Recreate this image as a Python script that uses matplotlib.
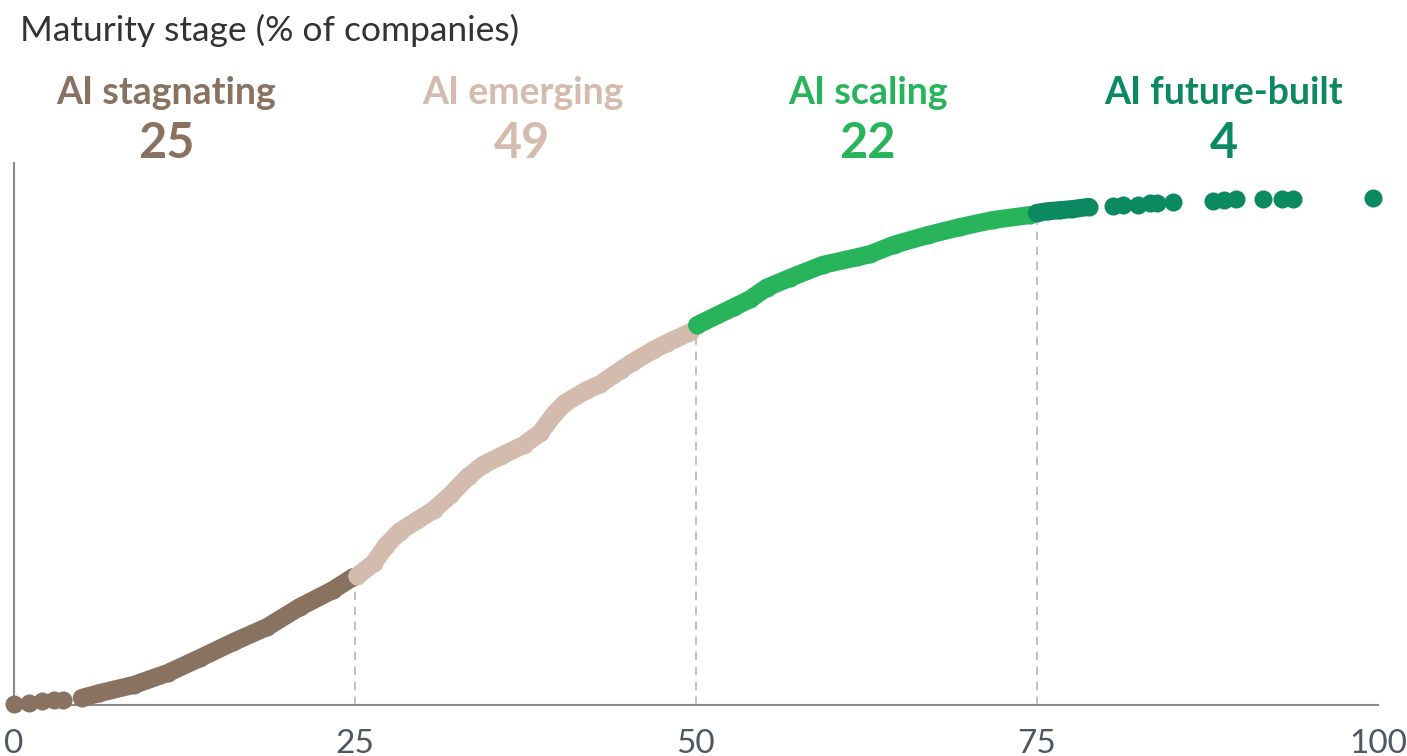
import matplotlib
matplotlib.use("Agg")
import matplotlib.pyplot as plt

# ---- data (x = % of companies, y = relative maturity score) ----
stages = ["AI stagnating", "AI emerging", "AI scaling", "AI future-built"]
shares = [25, 49, 22, 4]
label_x = [11.2, 37.3, 62.6, 88.7]
stage_colors = ["#8A7261", "#D3BBAD", "#28B45A", "#0B8A62"]

lead_x = [0.0, 1.1, 2.1, 3.0, 3.6]
lead_y = [0.2, 0.4, 0.7, 0.9, 0.9]

stag_x = [5.0, 6.3, 8.8, 11.3, 13.7, 16.1, 18.6, 21.0, 23.4, 24.9]
stag_y = [1.3, 2.2, 3.7, 5.9, 8.7, 11.6, 14.4, 18.1, 21.2, 23.6]

emerg_x = [25.2, 26.4, 27.3, 28.3, 29.6, 30.8, 32.0, 33.3, 34.4, 35.7, 37.4,
           38.6, 39.6, 40.4, 42.0, 43.0, 44.5, 45.4, 46.9, 47.9, 49.6]
emerg_y = [23.8, 26.2, 29.4, 32.0, 34.1, 36.0, 38.7, 42.1, 44.3, 45.9, 48.0,
           50.2, 53.6, 55.7, 58.1, 59.2, 61.8, 63.3, 65.5, 66.8, 68.8]

scal_x = [50.1, 52.8, 54.0, 55.2, 56.9, 59.3, 61.8, 62.8, 64.5, 67.0, 69.4, 71.8, 74.5]
scal_y = [70.1, 73.4, 74.9, 77.0, 78.8, 81.2, 82.6, 83.2, 84.9, 86.7, 88.2, 89.5, 90.4]

fut_x = [75.0, 75.8, 76.7, 77.6, 78.8]
fut_y = [90.8, 91.1, 91.3, 91.5, 91.9]
fut_dots_x = [80.6, 81.3, 82.4, 83.3, 83.8, 85.0, 87.9, 88.7, 89.6, 91.6, 93.0, 93.8, 99.6]
fut_dots_y = [92.1, 92.3, 92.3, 92.6, 92.6, 92.8, 93.0, 93.2, 93.4, 93.4, 93.4, 93.4, 93.5]

boundaries = [25, 50, 75]
xticks = [0, 25, 50, 75, 100]

plt.rcParams['font.family'] = ['Lato', 'DejaVu Sans']

W, H = 1407, 756
fig = plt.figure(figsize=(W / 100, H / 100), dpi=100)
ax = fig.add_axes([13.5 / W, (H - 705) / H, (1378 - 13.5) / W, (705 - 163) / H])
ax.set_xlim(0, 100)
ax.set_ylim(0, 100)

# dashed lines at stage boundaries, up to the curve
tops = [emerg_y[0], scal_y[0], fut_y[0]]
for bx, ty in zip(boundaries, tops):
    ax.plot([bx, bx], [0, ty], color="#b5b5b5", lw=1.2, ls=(0, (5, 4)), zorder=1)

dot = 13
segs = [(stag_x, stag_y, stage_colors[0]), (emerg_x, emerg_y, stage_colors[1]),
        (scal_x, scal_y, stage_colors[2]), (fut_x, fut_y, stage_colors[3])]
for xs, ys, c in segs:
    ax.plot(xs, ys, color=c, lw=dot, solid_capstyle="round", solid_joinstyle="round",
            marker="o", ms=dot, mew=0, zorder=3, clip_on=False)
ax.plot(lead_x, lead_y, "o", color=stage_colors[0], ms=dot, mew=0, zorder=3, clip_on=False)
ax.plot(fut_dots_x, fut_dots_y, "o", color=stage_colors[3], ms=dot, mew=0, zorder=3, clip_on=False)

for s in ["top", "right"]:
    ax.spines[s].set_visible(False)
for s in ["left", "bottom"]:
    ax.spines[s].set_color("#8a8a8a")
    ax.spines[s].set_linewidth(1.5)
ax.set_yticks([])
ax.set_xticks(xticks)
ax.set_xticklabels([str(t) for t in xticks])
ax.tick_params(axis="x", length=0, pad=17, labelsize=24, labelcolor="#4f5762")

# header texts
fig.text(20 / W, 1 - 30 / H, "Maturity stage (% of companies)", fontsize=25.5,
         color="#333333", ha="left", va="center")
for name, share, lx, c in zip(stages, shares, label_x, stage_colors):
    px = ax.transData.transform((lx, 0))[0] / W
    fig.text(px, 1 - 93 / H, name, fontsize=27, fontweight="bold", color=c,
             ha="center", va="center")
    fig.text(px, 1 - 143 / H, str(share), fontsize=35, fontweight="bold", color=c,
             ha="center", va="center")

fig.savefig("out.png", dpi=100)
